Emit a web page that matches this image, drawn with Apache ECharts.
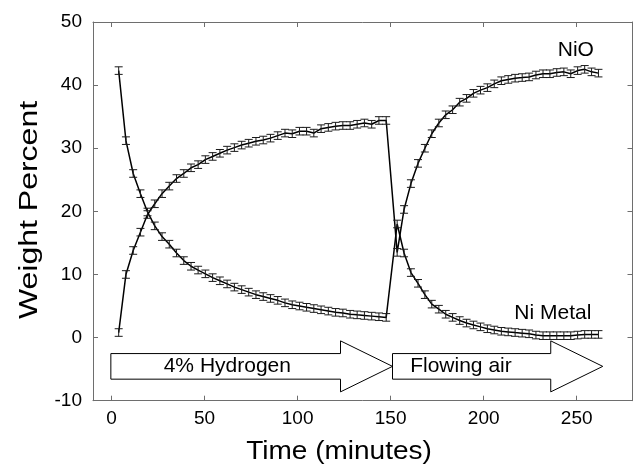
<!DOCTYPE html>
<html><head><meta charset="utf-8">
<script src="https://cdn.jsdelivr.net/npm/echarts@6/dist/echarts.min.js"></script>
<style>html,body{margin:0;padding:0;background:#fff}#c{width:635px;height:468px}</style>
</head><body><div id="c"></div>
<script>
// ---- data ----
const hydrogenTimes = [3.8, 7.7, 11.6, 15.5, 19.3, 23.2, 27.1, 31.0, 34.9, 38.8, 42.7, 46.5, 50.4, 54.3, 58.2, 62.1, 66.0, 69.9, 73.7, 77.6, 81.5, 85.4, 89.3, 93.2, 97.1, 101.0, 104.8, 108.7, 112.6, 116.5, 120.4, 124.3, 128.2, 132.0, 135.9, 139.8, 143.7, 147.6];
const niMetalHydrogen = [42.3, 31.2, 26.0, 22.8, 19.9, 17.7, 16.0, 14.8, 13.4, 12.2, 11.3, 10.7, 10.1, 9.5, 9.0, 8.5, 8.0, 7.6, 7.2, 6.8, 6.5, 6.2, 5.9, 5.5, 5.2, 5.0, 4.8, 4.6, 4.4, 4.2, 4.0, 3.9, 3.7, 3.6, 3.5, 3.4, 3.3, 3.2];
const nioHydrogen = [0.8, 10.0, 13.8, 16.7, 19.5, 21.2, 22.8, 24.0, 25.2, 26.0, 26.9, 27.4, 28.2, 28.7, 29.2, 29.7, 30.1, 30.5, 30.8, 31.1, 31.3, 31.6, 32.0, 32.4, 32.3, 32.7, 32.7, 32.4, 33.1, 33.3, 33.5, 33.6, 33.6, 33.8, 34.0, 33.8, 34.4, 34.4];
const airTimes = [153.5, 157.2, 160.9, 164.7, 168.4, 172.1, 175.9, 179.6, 183.3, 187.1, 190.8, 194.5, 198.3, 202.0, 205.7, 209.5, 213.2, 216.9, 220.7, 224.4, 228.1, 231.9, 235.6, 239.3, 243.1, 246.8, 250.5, 254.3, 258.0, 261.7];
const niMetalAir = [18.0, 13.4, 10.3, 8.6, 6.8, 5.3, 4.5, 3.7, 3.2, 2.7, 2.3, 2.0, 1.7, 1.4, 1.2, 1.0, 0.9, 0.8, 0.7, 0.6, 0.4, 0.3, 0.3, 0.3, 0.3, 0.3, 0.4, 0.5, 0.5, 0.5];
const nioAir = [13.5, 20.3, 24.4, 27.6, 30.0, 32.3, 34.0, 35.3, 36.1, 37.3, 37.9, 38.7, 39.2, 39.6, 40.2, 40.7, 40.9, 41.1, 41.2, 41.3, 41.6, 41.8, 41.8, 42.0, 42.1, 41.8, 42.3, 42.5, 42.1, 41.9];
const errorHalfWidth = 0.6;
const xTickValues = [0, 50, 100, 150, 200, 250];
const yTickValues = [-10, 0, 10, 20, 30, 40, 50];
const seriesNames = ['Ni Metal', 'NiO'];
const phaseNames = ['4% Hydrogen', 'Flowing air'];
const axisTitles = ['Time (minutes)', 'Weight Percent'];

// ---- build ----
const times = hydrogenTimes.concat(airTimes);
const niMetal = niMetalHydrogen.concat(niMetalAir);
const nio = nioHydrogen.concat(nioAir);
const pair = (xs, ys) => xs.map((x, i) => [x, ys[i]]);
const niData = pair(times, niMetal);
const nioData = pair(times, nio);

const FONT = 'Liberation Sans, Arial, sans-serif';
const AXIS_COLOR = '#6e6e6e';

function errRender(params, api) {
  const x = api.value(0), y = api.value(1);
  const top = api.coord([x, y + errorHalfWidth]);
  const bot = api.coord([x, y - errorHalfWidth]);
  const cap = 4;
  const st = { stroke: '#1a1a1a', lineWidth: 1 };
  return {
    type: 'group',
    children: [
      { type: 'line', shape: { x1: top[0], y1: top[1], x2: bot[0], y2: bot[1] }, style: st },
      { type: 'line', shape: { x1: top[0] - cap, y1: top[1], x2: top[0] + cap, y2: top[1] }, style: st },
      { type: 'line', shape: { x1: bot[0] - cap, y1: bot[1], x2: bot[0] + cap, y2: bot[1] }, style: st }
    ]
  };
}

const chart = echarts.init(document.getElementById('c'), null, { renderer: 'canvas' });
const grid = { left: 93, right: 2.5, top: 22, bottom: 67.3 };
const axisLineStyle = { color: AXIS_COLOR, width: 1 };
chart.setOption({
  animation: false,
  backgroundColor: '#fff',
  grid: grid,
  xAxis: [{
    type: 'value', min: -10, max: 280, position: 'bottom',
    axisLine: { show: true, onZero: false, lineStyle: axisLineStyle },
    axisTick: { show: true, inside: true, length: 5, customValues: xTickValues, lineStyle: axisLineStyle },
    axisLabel: { show: true, customValues: xTickValues, fontSize: 19, color: '#000', fontFamily: FONT, margin: 9 },
    splitLine: { show: false }
  }, {
    type: 'value', min: -10, max: 280, position: 'top',
    axisLine: { show: true, onZero: false, lineStyle: axisLineStyle },
    axisTick: { show: true, inside: true, length: 5, customValues: xTickValues, lineStyle: axisLineStyle },
    axisLabel: { show: false }, splitLine: { show: false }
  }],
  yAxis: [{
    type: 'value', min: -10, max: 50, interval: 10, position: 'left',
    axisLine: { show: true, onZero: false, lineStyle: axisLineStyle },
    axisTick: { show: true, inside: true, length: 5, customValues: yTickValues, lineStyle: axisLineStyle },
    axisLabel: { show: true, customValues: yTickValues, fontSize: 19, color: '#000', fontFamily: FONT, margin: 11 },
    splitLine: { show: false }
  }, {
    type: 'value', min: -10, max: 50, interval: 10, position: 'right',
    axisLine: { show: true, onZero: false, lineStyle: axisLineStyle },
    axisTick: { show: true, inside: true, length: 5, customValues: yTickValues, lineStyle: axisLineStyle },
    axisLabel: { show: false }, splitLine: { show: false }
  }],
  series: [
    { name: seriesNames[0], type: 'line', data: niData, showSymbol: false, symbol: 'none',
      lineStyle: { color: '#000', width: 1.5 }, z: 3 },
    { name: seriesNames[1], type: 'line', data: nioData, showSymbol: false, symbol: 'none',
      lineStyle: { color: '#000', width: 1.5 }, z: 3 },
    { type: 'custom', data: niData, renderItem: errRender, z: 4 },
    { type: 'custom', data: nioData, renderItem: errRender, z: 4 }
  ]
});

// ---- annotations (arrows, labels, axis titles) ----
function px(x, y) { return chart.convertToPixel({ xAxisIndex: 0, yAxisIndex: 0 }, [x, y]); }
function arrow(x0, x1) {
  const a = px(x0, -4.56), b = px(x1, -4.56);
  const cy = a[1], head = 52, bh = 12.8, hh = 25.5;
  const hb = b[0] - head;
  return { type: 'polygon', z: 10,
    shape: { points: [[a[0], cy - bh], [hb, cy - bh], [hb, cy - hh], [b[0], cy], [hb, cy + hh], [hb, cy + bh], [a[0], cy + bh]] },
    style: { fill: '#fff', stroke: '#000', lineWidth: 1 } };
}
function label(text, x, y, size) {
  const p = px(x, y);
  return { type: 'text', z: 11, x: p[0], y: p[1],
    style: { text: text, fill: '#000', font: size + 'px ' + FONT, textAlign: 'left', textVerticalAlign: 'middle' } };
}
const g = [
  arrow(-0.4, 151), arrow(151, 264),
  label(phaseNames[0], 28, -4.56, 21),
  label(phaseNames[1], 160.5, -4.56, 21),
  label(seriesNames[1], 239.8, 45.5, 21),
  label(seriesNames[0], 216.5, 3.9, 21),
  { type: 'text', z: 11, x: 339, y: 452, scaleX: 1.12,
    style: { text: axisTitles[0], fill: '#000', font: '25px ' + FONT, textAlign: 'center', textVerticalAlign: 'middle' } },
  { type: 'text', z: 11, x: 30, y: 210, rotation: Math.PI / 2, scaleX: 1.28,
    style: { text: axisTitles[1], fill: '#000', font: '25px ' + FONT, textAlign: 'center', textVerticalAlign: 'middle' } }
];
chart.setOption({ graphic: g });
</script></body></html>
